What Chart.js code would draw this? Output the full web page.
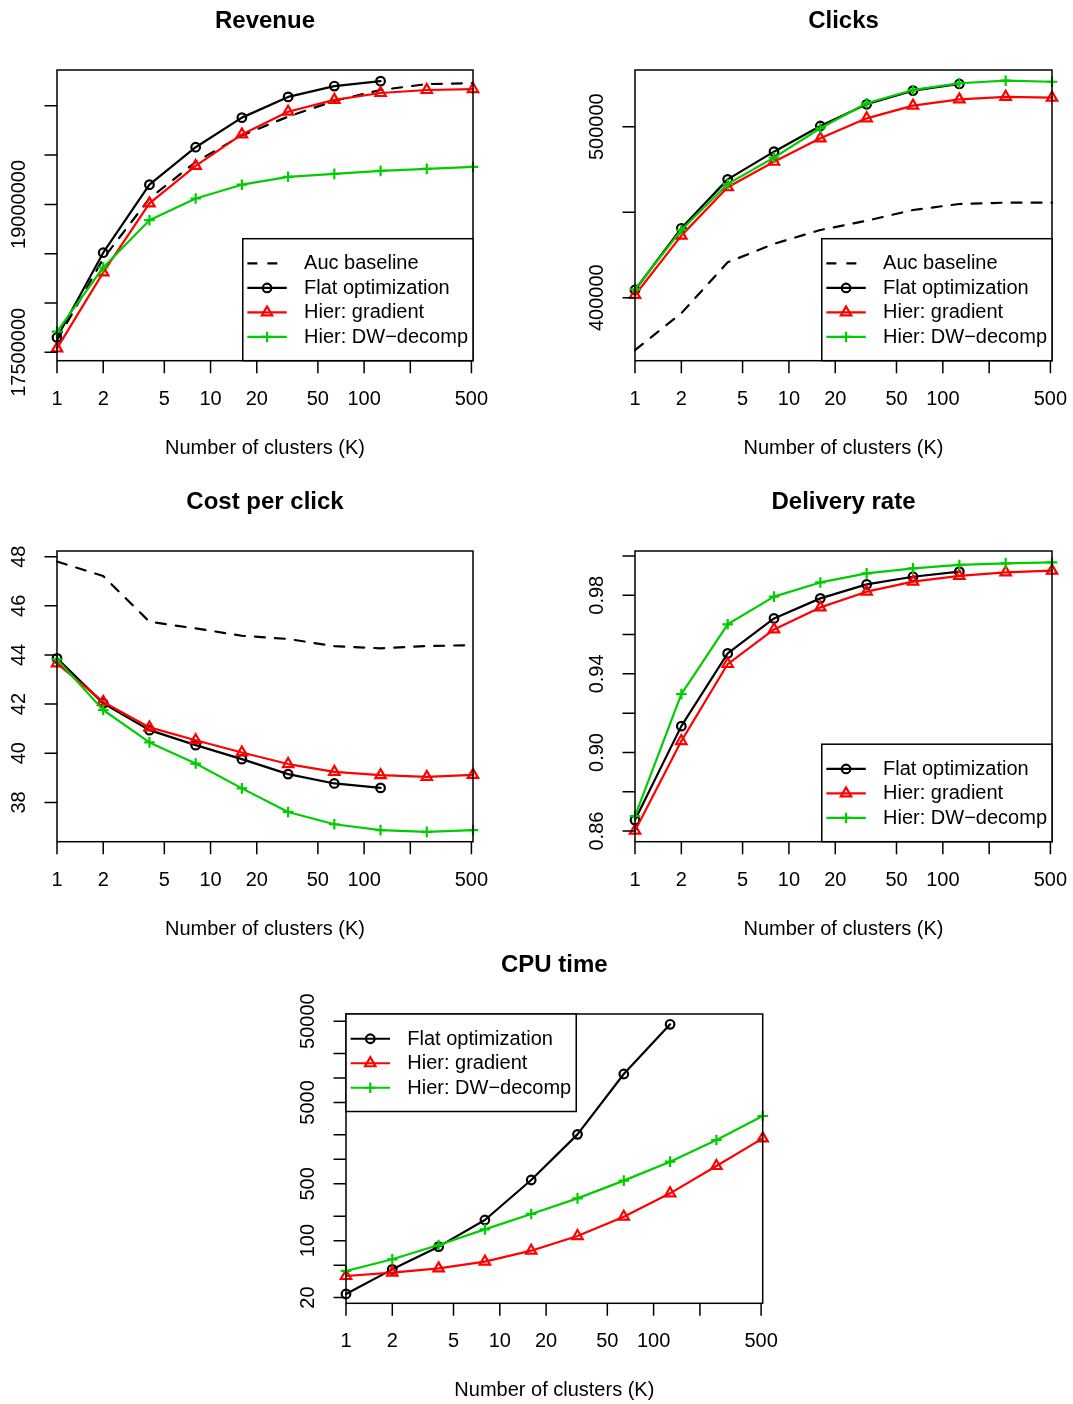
<!DOCTYPE html>
<html>
<head>
<meta charset="utf-8">
<script src="https://cdn.jsdelivr.net/npm/chart.js@4.4.1/dist/chart.umd.min.js"></script>
<style>
    body { margin: 0; background: #fff; }
    #page { position: relative; width: 1073px; height: 1404px; }
    #page canvas { position: absolute; left: 0; top: 0; }
</style>
</head>
<body>
<div id="page">
    <canvas id="revenue" width="1073" height="1404"></canvas>
    <canvas id="clicks" width="1073" height="1404"></canvas>
    <canvas id="cpc" width="1073" height="1404"></canvas>
    <canvas id="delivery" width="1073" height="1404"></canvas>
    <canvas id="cpu" width="1073" height="1404"></canvas>
</div>
<script>
const clusters = [1, 2, 4, 8, 16, 32, 64, 128, 256, 512];
const xTicks = [1, 2, 5, 10, 20, 50, 100, 200, 500];
const xTickLabels = ['1', '2', '5', '10', '20', '50', '100', '', '500'];
const xTitle = 'Number of clusters (K)';

// Revenue
const revenueAuc = [17620000, 18450000, 19060000, 19430000, 19700000, 19890000, 20050000, 20160000, 20220000, 20230000];
const revenueFlat = [17650000, 18510000, 19200000, 19580000, 19880000, 20090000, 20200000, 20250000];
const revenueGrad = [17540000, 18310000, 19010000, 19390000, 19710000, 19940000, 20060000, 20130000, 20160000, 20170000];
const revenueDw = [17710000, 18360000, 18840000, 19060000, 19200000, 19280000, 19310000, 19340000, 19360000, 19380000];
const revenueYTicks = [17500000, 18000000, 18500000, 19000000, 19500000, 20000000];
const revenueYLabels = ['17500000', '', '', '19000000', '', ''];

// Clicks
const clicksAuc = [369400, 390900, 420700, 431500, 439600, 445000, 451300, 454800, 455600, 455600];
const clicksFlat = [404500, 440600, 469200, 485400, 500400, 513100, 521100, 525000];
const clicksGrad = [401600, 436300, 464600, 479500, 493200, 504900, 512300, 516000, 517500, 517000];
const clicksDw = [404900, 439600, 466500, 481900, 499100, 513700, 521500, 525400, 526900, 526300];
const clicksYTicks = [400000, 450000, 500000];
const clicksYLabels = ['400000', '', '500000'];

// Cost per click
const cpcAuc = [47.80, 47.21, 45.35, 45.08, 44.78, 44.65, 44.36, 44.27, 44.36, 44.40];
const cpcFlat = [43.86, 42.03, 40.94, 40.33, 39.76, 39.15, 38.77, 38.59];
const cpcGrad = [43.66, 42.09, 41.05, 40.53, 40.03, 39.56, 39.24, 39.11, 39.04, 39.12];
const cpcDw = [43.82, 41.76, 40.44, 39.58, 38.57, 37.61, 37.11, 36.87, 36.80, 36.87];
const cpcYTicks = [38, 40, 42, 44, 46, 48];
const cpcYLabels = ['38', '40', '42', '44', '46', '48'];

// Delivery rate
const deliveryFlat = [0.8656, 0.9134, 0.9504, 0.9682, 0.9784, 0.9855, 0.9894, 0.9920];
const deliveryGrad = [0.8602, 0.9058, 0.9450, 0.9626, 0.9738, 0.9818, 0.9869, 0.9898, 0.9916, 0.9925];
const deliveryDw = [0.8676, 0.9297, 0.9652, 0.9793, 0.9865, 0.9911, 0.9937, 0.9954, 0.9962, 0.9967];
const deliveryYTicks = [0.86, 0.88, 0.90, 0.92, 0.94, 0.96, 0.98, 1.00];
const deliveryYLabels = ['0.86', '', '0.90', '', '0.94', '', '0.98', ''];

// CPU time
const cpuFlat = [22.1, 44.4, 84.4, 179.6, 557, 2028, 11200, 45700];
const cpuGrad = [36.8, 40.5, 45.7, 55.2, 75.3, 114, 197, 382, 828, 1811];
const cpuDw = [42.4, 59.0, 88.4, 137.8, 213, 331, 547, 936, 1729, 3412];
const cpuYTicks = [20, 50, 100, 200, 500, 1000, 2000, 5000, 10000, 20000, 50000];
const cpuYLabels = ['20', '', '100', '', '500', '', '', '5000', '', '', '50000'];

const FONT = '"Liberation Sans", Arial, Helvetica, sans-serif';
const GREEN = '#00CD00';
const PAGE_W = 1073, PAGE_H = 1404;

function toPoints(values) {
    return values.map((v, i) => ({ x: clusters[i], y: v }));
}

function lineSet(label, values, color, style, order) {
    const radius = { circle: 4.3, triangle: 6, cross: 5.3 }[style] || 0;
    return {
        label,
        data: toPoints(values),
        borderColor: color,
        backgroundColor: 'rgba(0,0,0,0)',
        borderWidth: 2.2,
        borderDash: style ? [] : [10, 10],
        borderCapStyle: 'round',
        borderJoinStyle: 'round',
        pointStyle: style || 'circle',
        pointRadius: radius,
        pointBorderWidth: 2.2,
        pointBorderColor: color,
        pointBackgroundColor: 'rgba(0,0,0,0)',
        tension: 0,
        clip: false,
        order
    };
}

// R-style axes, box, titles and legend
const rPanel = {
    id: 'rPanel',
    afterDraw(chart, args, opts) {
        const { ctx, chartArea: a } = chart;
        const x = chart.scales.x, y = chart.scales.y;
        ctx.save();
        ctx.strokeStyle = '#000';
        ctx.fillStyle = '#000';
        ctx.lineWidth = 1.5;
        ctx.strokeRect(a.left, a.top, a.right - a.left, a.bottom - a.top);

        ctx.beginPath();
        xTicks.forEach(v => {
            const px = x.getPixelForValue(v);
            ctx.moveTo(px, a.bottom);
            ctx.lineTo(px, a.bottom + 12.5);
        });
        opts.yTicks.forEach(v => {
            const py = y.getPixelForValue(v);
            ctx.moveTo(a.left, py);
            ctx.lineTo(a.left - 12.5, py);
        });
        ctx.stroke();

        ctx.font = `20px ${FONT}`;
        ctx.textAlign = 'center';
        ctx.textBaseline = 'middle';
        xTicks.forEach((v, i) => {
            if (xTickLabels[i]) ctx.fillText(xTickLabels[i], x.getPixelForValue(v), a.bottom + 38.5);
        });
        opts.yTicks.forEach((v, i) => {
            if (!opts.yLabels[i]) return;
            ctx.save();
            ctx.translate(a.left - 37.5, y.getPixelForValue(v));
            ctx.rotate(-Math.PI / 2);
            ctx.fillText(opts.yLabels[i], 0, 0);
            ctx.restore();
        });
        ctx.fillText(xTitle, (a.left + a.right) / 2, a.bottom + 87.5);

        ctx.font = `bold 24px ${FONT}`;
        ctx.fillText(opts.title, (a.left + a.right) / 2, a.top - 48.5);

        if (opts.legend) {
            const items = chart.data.datasets;
            ctx.font = `20px ${FONT}`;
            const textW = Math.max(...items.map(d => ctx.measureText(d.label).width));
            const lw = 61.3 + textW + 5;
            const lh = 24 + 24.5 * items.length;
            const lx = opts.legend === 'topleft' ? a.left : a.right - lw;
            const ly = opts.legend === 'topleft' ? a.top : a.bottom - lh;
            ctx.fillStyle = '#fff';
            ctx.fillRect(lx, ly, lw, lh);
            ctx.strokeStyle = '#000';
            ctx.lineWidth = 1.5;
            ctx.strokeRect(lx, ly, lw, lh);
            items.forEach((d, i) => {
                const cy = ly + 12.5 + 24.5 * (i + 0.5);
                ctx.strokeStyle = d.borderColor;
                ctx.lineWidth = d.borderWidth;
                ctx.setLineDash(d.borderDash);
                ctx.beginPath();
                ctx.moveTo(lx + 4.6, cy);
                ctx.lineTo(lx + 44, cy);
                ctx.stroke();
                ctx.setLineDash([]);
                if (d.pointRadius > 0) {
                    ctx.fillStyle = 'rgba(0,0,0,0)';
                    ctx.lineWidth = d.pointBorderWidth;
                    Chart.helpers.drawPoint(ctx, {
                        pointStyle: d.pointStyle, radius: d.pointRadius,
                        rotation: 0, borderWidth: d.pointBorderWidth
                    }, lx + 24.3, cy);
                }
                ctx.fillStyle = '#000';
                ctx.textAlign = 'left';
                ctx.fillText(d.label, lx + 61.3, cy + 0.5);
            });
        }
        ctx.restore();
    }
};

function drawPanel(id, box, yScale, opts, datasets) {
    new Chart(document.getElementById(id), {
        type: 'line',
        data: { datasets },
        options: {
            responsive: false,
            animation: false,
            events: [],
            layout: { padding: { left: box[0], right: PAGE_W - box[1], top: box[2], bottom: PAGE_H - box[3] } },
            scales: {
                x: { type: 'logarithmic', min: 1, max: 512, display: false },
                y: Object.assign({ display: false }, yScale)
            },
            plugins: { legend: { display: false }, tooltip: { enabled: false }, rPanel: opts }
        },
        plugins: [rPanel]
    });
}

drawPanel('revenue', [57, 473, 70, 360.7],
    { type: 'linear', min: 17415000, max: 20363000 },
    { title: 'Revenue', yTicks: revenueYTicks, yLabels: revenueYLabels, legend: 'bottomright' },
    [
        lineSet('Auc baseline', revenueAuc, '#000', null, 3),
        lineSet('Flat optimization', revenueFlat, '#000', 'circle', 2),
        lineSet('Hier: gradient', revenueGrad, '#FF0000', 'triangle', 1),
        lineSet('Hier: DW\u2212decomp', revenueDw, GREEN, 'cross', 0)
    ]);

drawPanel('clicks', [635, 1052, 70, 360.7],
    { type: 'linear', min: 363160, max: 533160 },
    { title: 'Clicks', yTicks: clicksYTicks, yLabels: clicksYLabels, legend: 'bottomright' },
    [
        lineSet('Auc baseline', clicksAuc, '#000', null, 3),
        lineSet('Flat optimization', clicksFlat, '#000', 'circle', 2),
        lineSet('Hier: gradient', clicksGrad, '#FF0000', 'triangle', 1),
        lineSet('Hier: DW\u2212decomp', clicksDw, GREEN, 'cross', 0)
    ]);

drawPanel('cpc', [57, 473, 551, 841.7],
    { type: 'linear', min: 36.40, max: 48.23 },
    { title: 'Cost per click', yTicks: cpcYTicks, yLabels: cpcYLabels, legend: null },
    [
        lineSet('Auc baseline', cpcAuc, '#000', null, 3),
        lineSet('Flat optimization', cpcFlat, '#000', 'circle', 2),
        lineSet('Hier: gradient', cpcGrad, '#FF0000', 'triangle', 1),
        lineSet('Hier: DW\u2212decomp', cpcDw, GREEN, 'cross', 0)
    ]);

drawPanel('delivery', [635, 1052, 551, 841.7],
    { type: 'linear', min: 0.8546, max: 1.0025 },
    { title: 'Delivery rate', yTicks: deliveryYTicks, yLabels: deliveryYLabels, legend: 'bottomright' },
    [
        lineSet('Flat optimization', deliveryFlat, '#000', 'circle', 2),
        lineSet('Hier: gradient', deliveryGrad, '#FF0000', 'triangle', 1),
        lineSet('Hier: DW\u2212decomp', deliveryDw, GREEN, 'cross', 0)
    ]);

drawPanel('cpu', [346, 762.7, 1014, 1303.3],
    { type: 'logarithmic', min: 16.98, max: 61200 },
    { title: 'CPU time', yTicks: cpuYTicks, yLabels: cpuYLabels, legend: 'topleft' },
    [
        lineSet('Flat optimization', cpuFlat, '#000', 'circle', 2),
        lineSet('Hier: gradient', cpuGrad, '#FF0000', 'triangle', 1),
        lineSet('Hier: DW\u2212decomp', cpuDw, GREEN, 'cross', 0)
    ]);
</script>
</body>
</html>
